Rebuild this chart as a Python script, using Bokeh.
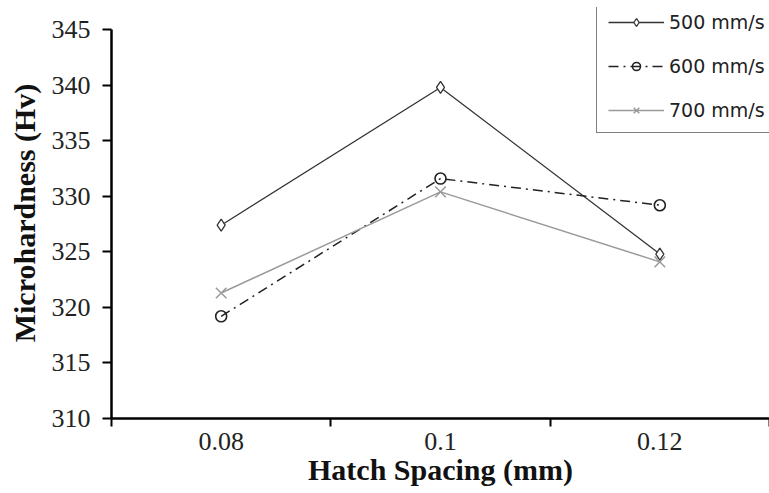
from bokeh.plotting import figure
from bokeh.models import Range1d, FixedTicker, Legend, LegendItem
from bokeh.embed import file_html
from bokeh.resources import INLINE

# Hatch spacing categories (mm) and microhardness (Hv) for each scan speed
categories = ["0.08", "0.1", "0.12"]
hv_500 = [327.4, 339.8, 324.8]
hv_600 = [319.2, 331.6, 329.2]
hv_700 = [321.3, 330.4, 324.1]
y_ticks = [310, 315, 320, 325, 330, 335, 340, 345]

# numeric slot per category so ticks can sit on the slot boundaries
xs = [i + 1 for i in range(len(categories))]
boundaries = [x - 0.5 for x in xs] + [xs[-1] + 0.5]

# a little headroom above the top tick so the legend box fits inside the frame
y_top = y_ticks[-1] + 2.0

p = figure(width=769, height=493, output_backend="svg", toolbar_location=None,
           x_range=Range1d(boundaries[0], boundaries[-1]),
           y_range=Range1d(y_ticks[0], y_top),
           min_border_left=111, min_border_right=0,
           min_border_top=7, min_border_bottom=75)
p.outline_line_color = None
p.grid.visible = False
p.background_fill_color = "white"
p.border_fill_color = "white"

serif = "Liberation Serif"

# x axis: labels at slot centres, tick marks at slot boundaries
p.xaxis.ticker = FixedTicker(ticks=xs, minor_ticks=boundaries)
p.xaxis.major_label_overrides = {x: c for x, c in zip(xs, categories)}
p.xaxis.major_tick_out = 0
p.xaxis.major_tick_in = 0
p.xaxis.minor_tick_out = 8
p.xaxis.minor_tick_in = 0
p.xaxis.minor_tick_line_width = 2
p.xaxis.minor_tick_line_color = "black"
p.xaxis.axis_label = "Hatch Spacing (mm)"
p.xaxis.major_label_standoff = 6
p.xaxis.axis_label_standoff = 0

# y axis, drawn only over the ticked span
p.yaxis.ticker = FixedTicker(ticks=y_ticks, minor_ticks=[])
p.yaxis.bounds = (y_ticks[0], y_ticks[-1])
p.yaxis.major_tick_out = 9
p.yaxis.major_tick_in = 0
p.yaxis.major_tick_line_width = 2
p.yaxis.major_tick_line_color = "black"
p.yaxis.axis_label = "Microhardness (Hv)"
p.yaxis.major_label_standoff = 12
p.yaxis.axis_label_standoff = 8

for ax in (p.xaxis, p.yaxis):
    ax.axis_line_width = 2.5
    ax.axis_line_color = "black"
    ax.major_label_text_font = serif
    ax.major_label_text_font_size = "26px"
    ax.major_label_text_color = "#222222"
    ax.axis_label_text_font = serif
    ax.axis_label_text_font_style = "bold"
    ax.axis_label_text_font_size = "30px"
    ax.axis_label_text_color = "#111111"

# series
c500, c600, c700 = "#333333", "#222222", "#9a9a9a"

l500 = p.line(xs, hv_500, line_color=c500, line_width=1.3)
m500 = p.scatter(xs, hv_500, marker="diamond", size=12, line_color=c500,
                 fill_color="white", line_width=1.3)

l600 = p.line(xs, hv_600, line_color=c600, line_width=1.5, line_dash="10 5 2 5")
m600 = p.scatter(xs, hv_600, marker="circle", size=11, line_color=c600,
                 fill_color=None, line_width=1.6)

l700 = p.line(xs, hv_700, line_color=c700, line_width=1.5)
m700 = p.scatter(xs, hv_700, marker="x", size=15, line_color=c700, line_width=1.5)

legend = Legend(items=[
    LegendItem(label="500 mm/s", renderers=[l500, m500]),
    LegendItem(label="600 mm/s", renderers=[l600, m600]),
    LegendItem(label="700 mm/s", renderers=[l700, m700]),
], location="top_left")
legend.location = (485, 285)
legend.label_text_font = "DejaVu Sans"
legend.label_text_font_size = "19px"
legend.label_text_color = "#222222"
legend.glyph_width = 56
legend.glyph_height = 20
legend.label_height = 20
legend.spacing = 22
legend.padding = 11
legend.margin = 0
legend.label_standoff = 5
legend.border_line_color = "black"
legend.border_line_width = 1
legend.background_fill_color = "white"
legend.background_fill_alpha = 1.0
p.add_layout(legend, "center")

open("out.html", "w").write(file_html(p, INLINE))
